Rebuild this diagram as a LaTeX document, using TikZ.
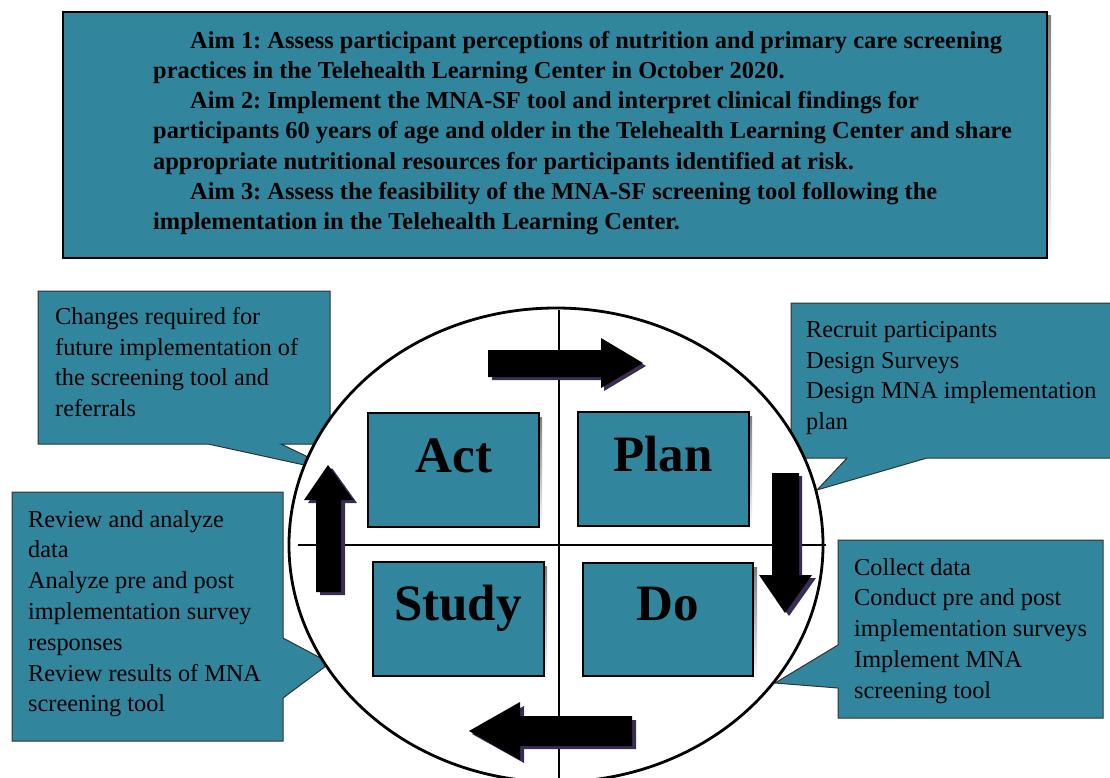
\documentclass[tikz,border=0pt]{standalone}
\usepackage{fontspec}
\setmainfont{Liberation Serif}
\frenchspacing
\definecolor{tealbox}{RGB}{49,133,156}
\definecolor{shade}{RGB}{58,44,82}
\definecolor{edge}{RGB}{50,50,50}
\begin{document}
\begin{tikzpicture}[x=1pt,y=-1pt,
  panel/.style={fill=tealbox, draw=black, line width=1.6pt},
  bubble/.style={fill=tealbox, draw=edge, line width=1pt, line join=miter},
  bubbletext/.style={anchor=north west, inner sep=0pt, align=left,
    font=\fontsize{24.3}{30.8}\selectfont},
  phase/.style={anchor=base, inner sep=0pt, font=\bfseries\fontsize{51}{51}\selectfont},
  blockarrow/.style={fill=black},
  arrowshade/.style={fill=shade},
  axis/.style={line width=2.4pt}]
\useasboundingbox (0,0) rectangle (1110,778);

% aims panel with drop shadow
\fill[shade] (67,16) rectangle (1051,262);
\draw[panel, line width=2.2pt] (63,12) rectangle (1047,258);
\node[anchor=north west, inner sep=0pt, align=left,
      font=\bfseries\fontsize{24.4}{30.2}\selectfont] (aims) at (153,31)
  {\hspace*{37pt}Aim 1: Assess participant perceptions of nutrition and primary care screening\\
   practices in the Telehealth Learning Center in October 2020.\\
   \hspace*{37pt}Aim 2: Implement the MNA-SF tool and interpret clinical findings for\\
   participants 60 years of age and older in the Telehealth Learning Center and share\\
   appropriate nutritional resources for participants identified at risk.\\
   \hspace*{37pt}Aim 3: Assess the feasibility of the MNA-SF screening tool following the\\
   implementation in the Telehealth Learning Center.};

% callouts (their pointers run under the cycle disc)
\draw[bubble] (38,291) -- (330,291) -- (330,444) -- (281,444) -- (341,473)
  -- (208,444) -- (38,444) -- cycle;
\draw[bubble] (791,303) -- (1120,303) -- (1120,458) -- (927,458) -- (817,490)
  -- (847,458) -- (791,458) -- cycle;
\draw[bubble] (12,492) -- (283,492) -- (283,638) -- (330,663) -- (283,698)
  -- (283,741) -- (12,741) -- cycle;
\draw[bubble] (838,540) -- (1103,540) -- (1103,718) -- (838,718) -- (838,688)
  -- (775,683) -- (838,645) -- cycle;

\node[bubbletext] (actnote) at (55,307)
  {Changes required for\\future implementation of\\the screening tool and\\referrals};
\node[bubbletext] (plannote) at (806,321)
  {Recruit participants\\Design Surveys\\Design MNA implementation\\plan};
\node[bubbletext] (studynote) at (28,510)
  {Review and analyze\\data\\Analyze pre and post\\implementation survey\\responses\\Review results of MNA\\screening tool};
\node[bubbletext] (donote) at (854,558)
  {Collect data\\Conduct pre and post\\implementation surveys\\Implement MNA\\screening tool};

% PDSA cycle disc and axes
\draw[fill=white, line width=2.8pt] (556,545) ellipse [x radius=267, y radius=237];
\coordinate (hl) at (298,545);
\coordinate (hr) at (826,545);
\coordinate (vt) at (559,310);
\coordinate (vb) at (559,790);
\draw[axis] (hl) -- (hr);
\draw[axis] (vt) -- (vb);

% quadrant boxes
\fill[shade] (371,417) rectangle (542,531);
\draw[panel] (368,413) rectangle (539,527);
\fill[shade] (582,416) rectangle (752,530);
\draw[panel] (578,412) rectangle (749,526);
\fill[shade] (377,566) rectangle (547,680);
\draw[panel] (373,562) rectangle (544,676);
\fill[shade] (587,567) rectangle (757,680);
\draw[panel] (583,563) rectangle (753,676);
\node[phase] (act) at (454,472) {Act};
\node[phase] (plan) at (663,471) {Plan};
\node[phase] (study) at (458,620) {Study};
\node[phase] (do) at (668,620) {Do};

% cycle arrows: right, down, left, up
\fill[arrowshade] (492,353) -- (604,353) -- (604,341) -- (646,366) -- (604,391)
  -- (604,380) -- (492,380) -- cycle;
\fill[blockarrow] (488,350) -- (601,350) -- (601,338) -- (643,363) -- (601,388)
  -- (601,377) -- (488,377) -- cycle;

\fill[arrowshade] (776,476) -- (802,476) -- (802,578) -- (816,578) -- (789,616)
  -- (762,578) -- (776,578) -- cycle;
\fill[blockarrow] (772,473) -- (799,473) -- (799,575) -- (812,575) -- (785,613)
  -- (759,575) -- (772,575) -- cycle;

\fill[arrowshade] (636,720) -- (524,720) -- (524,706) -- (472,734) -- (524,763)
  -- (524,749) -- (636,749) -- cycle;
\fill[blockarrow] (632,716) -- (520,716) -- (520,702) -- (469,731) -- (520,760)
  -- (520,746) -- (632,746) -- cycle;

\fill[arrowshade] (320,595) -- (345,595) -- (345,503) -- (357,503) -- (332,468)
  -- (308,503) -- (320,503) -- cycle;
\fill[blockarrow] (316,592) -- (341,592) -- (341,500) -- (353,500) -- (328,465)
  -- (304,500) -- (316,500) -- cycle;
\end{tikzpicture}
\end{document}
